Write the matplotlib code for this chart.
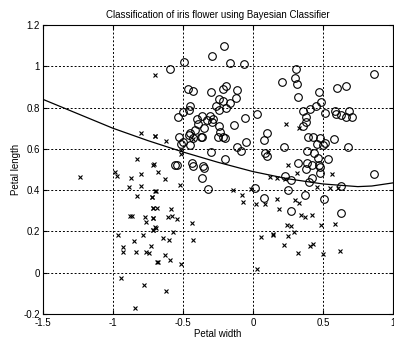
import numpy as np
import matplotlib
matplotlib.use("Agg")
from matplotlib import pyplot as plt

# class 1 (circles)
circ_x = [-0.207, -0.295, -0.164, -0.062, -0.49, -0.593, -0.464, -0.426, -0.3, -0.216,
          -0.193, -0.11, -0.117, -0.21, -0.24, -0.26, -0.24, -0.19, -0.16, -0.45,
          -0.457, -0.502, -0.538, -0.362, -0.402, -0.307, -0.284, -0.33, -0.055, 0.033,
          -0.395, -0.414, -0.45, -0.243, -0.134, -0.348, -0.295, -0.236, -0.21, -0.2,
          -0.252, -0.36, -0.374, -0.426, -0.455, -0.53, -0.498, -0.51, -0.45, 0.098,
          0.081, 0.086, 0.102, -0.052, -0.112, -0.088, -0.3, -0.198, -0.434, -0.355,
          -0.54, 0.307, 0.3, 0.316, 0.209, 0.866, 0.324, 0.474, 0.602, 0.669,
          0.49, 0.45, 0.407, 0.359, 0.383, 0.514, 0.586, 0.593, 0.633, 0.688,
          0.705, 0.664, 0.359, 0.383, 0.391, 0.431, 0.479, 0.502, 0.514, 0.581,
          0.455, 0.221, 0.681, 0.388, 0.438, 0.324, 0.388, 0.419, 0.474, 0.538,
          0.462, 0.229, 0.276, 0.379, 0.479, 0.479, 0.419, 0.402, 0.252, 0.371,
          0.507, 0.633, 0.864, 0.629, 0.276, -0.557, -0.426, -0.35, -0.366, -0.319,
          0.014, 0.081]
circ_y = [1.098, 1.05, 1.017, 1.01, 1.02, 0.987, 0.89, 0.88, 0.877, 0.89,
          0.906, 0.885, 0.845, 0.83, 0.84, 0.81, 0.79, 0.80, 0.82, 0.81,
          0.79, 0.78, 0.753, 0.761, 0.745, 0.761, 0.745, 0.74, 0.748, 0.768,
          0.72, 0.69, 0.675, 0.71, 0.716, 0.70, 0.732, 0.683, 0.659, 0.651,
          0.659, 0.656, 0.659, 0.651, 0.667, 0.659, 0.635, 0.622, 0.619, 0.679,
          0.643, 0.579, 0.566, 0.635, 0.608, 0.592, 0.587, 0.55, 0.53, 0.519,
          0.522, 0.985, 0.942, 0.914, 0.922, 0.961, 0.85, 0.877, 0.896, 0.905,
          0.829, 0.808, 0.792, 0.785, 0.756, 0.772, 0.785, 0.769, 0.764, 0.785,
          0.753, 0.756, 0.711, 0.732, 0.659, 0.656, 0.651, 0.619, 0.63, 0.646,
          0.624, 0.611, 0.611, 0.59, 0.582, 0.533, 0.53, 0.522, 0.522, 0.55,
          0.557, 0.47, 0.449, 0.503, 0.482, 0.514, 0.457, 0.441, 0.401, 0.377,
          0.357, 0.288, 0.478, 0.422, 0.30, 0.522, 0.519, 0.509, 0.461, 0.406,
          0.412, 0.364]

# class 2 (crosses)
cross_x = [-0.7, -0.624, -0.707, -0.43, -0.51, -0.51, 0.105, 0.236, 0.331, 0.252,
           0.169, 0.229, 0.312, 0.455, 0.55, 0.609, 0.562, 0.174, 0.188, 0.3,
           0.331, 0.341, 0.371, 0.419, 0.49, 0.586, 0.241, 0.276, 0.293, 0.252,
           0.145, 0.221, 0.324, 0.407, 0.431, 0.502, 0.621, -0.676, -0.629, -0.521,
           -0.7, -0.724, -0.712, -0.683, -0.588, -0.717, -0.605, -0.581, -0.545, -0.438,
           -0.7, -0.717, -0.574, -0.641, -0.598, -0.431, -0.629, -0.593, -0.676, -0.514,
           -0.621, -0.141, -0.081, -0.069, -0.016, 0.021, 0.086, 0.055, 0.145, 0.031,
           0.121, -1.238, -0.984, -0.969, -0.874, -0.802, -0.888, -0.802, -0.826, -0.721,
           -0.69, -0.714, -0.881, -0.864, -0.769, -0.714, -0.762, -0.714, -0.69, -0.964,
           -0.85, -0.786, -0.731, -0.929, -0.929, -0.838, -0.762, -0.745, -0.684, -0.945,
           -0.779, -0.845, -0.698, -0.798, -0.702, -0.826, -0.714]
cross_y = [0.663, 0.64, 0.527, 0.65, 0.595, 0.575, 0.587, 0.719, 0.703, 0.522,
           0.46, 0.454, 0.482, 0.417, 0.409, 0.409, 0.477, 0.357, 0.309, 0.353,
           0.337, 0.28, 0.272, 0.28, 0.231, 0.235, 0.231, 0.228, 0.199, 0.18,
           0.186, 0.135, 0.094, 0.127, 0.138, 0.089, 0.105, 0.487, 0.454, 0.425,
           0.396, 0.369, 0.315, 0.315, 0.309, 0.267, 0.272, 0.277, 0.261, 0.24,
           0.223, 0.207, 0.196, 0.17, 0.159, 0.159, 0.086, 0.062, 0.054, 0.041,
           -0.091, 0.401, 0.377, 0.341, 0.406, 0.332, 0.332, 0.175, 0.183, 0.018,
           0.466, 0.466, 0.49, 0.47, 0.457, 0.477, 0.417, 0.422, 0.372, 0.366,
           0.396, 0.315, 0.277, 0.277, 0.272, 0.264, 0.245, 0.207, 0.218, 0.183,
           0.154, 0.183, 0.127, 0.122, 0.099, 0.099, 0.099, 0.094, 0.054, -0.027,
           -0.062, -0.172, 0.957, 0.675, 0.664, 0.55, 0.522]

# decision boundary
bound_x = [-1.5, -1.25, -1.0, -0.75, -0.5, -0.25, 0.0, 0.25, 0.5, 0.75, 0.85, 1.0]
bound_y = [0.84, 0.77, 0.70, 0.64, 0.585, 0.535, 0.49, 0.455, 0.43, 0.417, 0.42, 0.435]

plt.rcParams['font.family'] = ['Liberation Sans', 'DejaVu Sans']
plt.rcParams['font.size'] = 7

fig = plt.figure(figsize=(3.94, 3.39), dpi=100)
ax = fig.add_axes([0.109, 0.074, 0.888, 0.852])

ax.plot(circ_x, circ_y, 'o', mfc='none', mec='black', ms=5.5, mew=0.8)
ax.plot(cross_x, cross_y, 'x', color='black', ms=3.5, mew=0.8)
ax.plot(bound_x, bound_y, '-', color='black', lw=0.9)

ax.set_xlim(-1.5, 1)
ax.set_ylim(-0.2, 1.2)
ax.set_xticks([-1.5, -1, -0.5, 0, 0.5, 1])
ax.set_xticklabels(['-1.5', '-1', '-0.5', '0', '0.5', '1'])
ax.set_yticks([-0.2, 0, 0.2, 0.4, 0.6, 0.8, 1, 1.2])
ax.set_yticklabels(['-0.2', '0', '0.2', '0.4', '0.6', '0.8', '1', '1.2'])
ax.grid(True, linestyle=(0, (2, 2)), color='black', lw=0.7)
ax.tick_params(direction='in', length=3, top=True, right=True)
ax.tick_params(axis='x', pad=3)
ax.tick_params(axis='y', pad=2)
for s in ax.spines.values():
    s.set_linewidth(0.8)

ax.set_title('Classification of iris flower using Bayesian Classifier', fontsize=7, pad=5)
ax.set_xlabel('Petal width', labelpad=1)
ax.set_ylabel('Petal length', labelpad=2)

fig.savefig('out.png', dpi=100)
